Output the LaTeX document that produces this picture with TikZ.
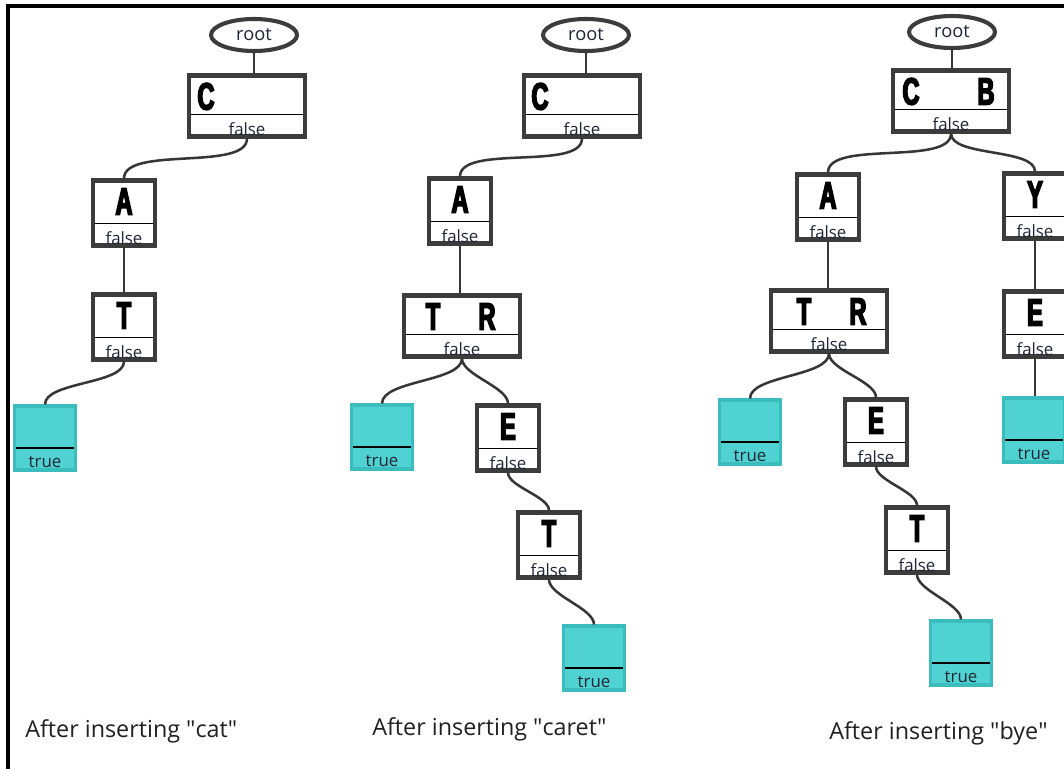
\documentclass[tikz,border=0pt]{standalone}
\usepackage{fontspec}
\setmainfont{Open Sans}
\newfontfamily\letterfont[FakeStretch=0.62,FakeBold=4]{Liberation Sans}
\usetikzlibrary{shapes.geometric}
\newlength\pxu
\setlength\pxu{0.025cm}
\definecolor{boxgray}{HTML}{3C3C3C}
\definecolor{linkgray}{HTML}{363636}
\definecolor{leafteal}{HTML}{50D2D2}
\definecolor{leafedge}{HTML}{3CBDBD}
\definecolor{flagink}{HTML}{1E2636}
\definecolor{capink}{HTML}{202020}
\tikzset{
  trie/.style={draw=boxgray, line width=2.9pt, fill=white, inner sep=0pt,
    minimum width=62\pxu, minimum height=65\pxu,
    path picture={\draw[black, line width=0.9pt]
      ([yshift=22\pxu]path picture bounding box.south west) --
      ([yshift=22\pxu]path picture bounding box.south east);}},
  wide/.style={minimum width=116\pxu, minimum height=61\pxu},
  leaf/.style={trie, draw=leafedge, fill=leafteal, line width=2.2pt,
    minimum width=61\pxu, minimum height=64\pxu},
  keys/.style 2 args={label={[anchor=center, inner sep=0pt,
    font=\letterfont\bfseries\fontsize{27}{27}\selectfont,
    xshift=#1\pxu, yshift=-23\pxu]north:#2}},
  wordend/.style={label={[anchor=center, inner sep=0pt, text=flagink,
    font=\fontsize{12}{12}\selectfont, yshift=9.5\pxu]south:#1}},
  link/.style={draw=linkgray, line width=1.8pt, looseness=0.65},
  rootnode/.style={ellipse, draw=boxgray, line width=2.9pt, fill=white,
    minimum width=86\pxu, minimum height=32\pxu, inner sep=0pt,
    text=flagink, font=\fontsize{13}{13}\selectfont},
  caption/.style={anchor=base west, inner sep=0pt, text=capink,
    font=\fontsize{16.6}{17}\selectfont},
}
\begin{document}
\begin{tikzpicture}[x=0.025cm, y=-0.025cm]
  \useasboundingbox (0,0) rectangle (1064,769);
  \draw[line width=2.2pt] (8,769) -- (8,6) -- (1064,6);

  % after "cat"
  \node[rootnode] (root1) at (254,35) {root};
  \node[trie, wide, keys={-41}{C}, wordend=false] (c1) at (247,106) {};
  \node[trie, keys={0}{A}, wordend=false] (a1) at (124,213) {};
  \node[trie, keys={0}{T}, wordend=false] (t1) at (124,327) {};
  \node[leaf, wordend=true] (end1) at (45,438) {};
  \draw[link] (root1.south) -- (root1.south |- c1.north);
  \draw[link] (c1.south) to[out=-90, in=90] (a1.north);
  \draw[link] (a1.south) -- (t1.north);
  \draw[link] (t1.south) to[out=-90, in=90] (end1.north);

  % after "caret"
  \node[rootnode] (root2) at (586,35) {root};
  \node[trie, wide, keys={-42}{C}, wordend=false] (c2) at (582,106) {};
  \node[trie, keys={0}{A}, wordend=false] (a2) at (460,211) {};
  \node[trie, wide, keys={-29}{T}, keys={25}{R}, wordend=false] (tr2) at (462,326) {};
  \node[leaf, wordend=true] (end2a) at (382,437) {};
  \node[trie, keys={0}{E}, wordend=false] (e2) at (508,438) {};
  \node[trie, keys={0}{T}, wordend=false] (t2) at (549,545) {};
  \node[leaf, wordend=true] (end2b) at (594,658) {};
  \draw[link] (root2.south) -- (root2.south |- c2.north);
  \draw[link] (c2.south) to[out=-90, in=90] (a2.north);
  \draw[link] (a2.south) -- (a2.south |- tr2.north);
  \draw[link] (tr2.south) to[out=-90, in=90] (end2a.north);
  \draw[link] (tr2.south) to[out=-90, in=90] (e2.north);
  \draw[link] (e2.south) to[out=-90, in=90] (t2.north);
  \draw[link] (t2.south) to[out=-90, in=90] (end2b.north);

  % after "bye"
  \node[rootnode] (root3) at (952,32) {root};
  \node[trie, wide, keys={-40}{C}, keys={35}{B}, wordend=false] (cb3) at (951,101) {};
  \node[trie, keys={0}{A}, wordend=false] (a3) at (828,207) {};
  \node[trie, wide, keys={-25}{T}, keys={29}{R}, wordend=false] (tr3) at (829,321) {};
  \node[leaf, wordend=true] (end3a) at (750,432) {};
  \node[trie, keys={0}{E}, wordend=false] (e3) at (876,432) {};
  \node[trie, keys={0}{T}, wordend=false] (t3) at (917,540) {};
  \node[leaf, wordend=true] (end3b) at (961,653) {};
  \node[trie, keys={0}{Y}, wordend=false] (y3) at (1035,206) {};
  \node[trie, keys={0}{E}, wordend=false] (e3y) at (1035,324) {};
  \node[leaf, wordend=true] (end3c) at (1034,430) {};
  \draw[link] (root3.south) -- (root3.south |- cb3.north);
  \draw[link] (cb3.south) to[out=-90, in=90] (a3.north);
  \draw[link] (cb3.south) to[out=-90, in=90] (y3.north);
  \draw[link] (a3.south) -- (a3.south |- tr3.north);
  \draw[link] (tr3.south) to[out=-90, in=90] (end3a.north);
  \draw[link] (tr3.south) to[out=-90, in=90] (e3.north);
  \draw[link] (e3.south) to[out=-90, in=90] (t3.north);
  \draw[link] (t3.south) to[out=-90, in=90] (end3b.north);
  \draw[link] (y3.south) -- (e3y.north);
  \draw[link] (e3y.south) -- (e3y.south |- end3c.north);

  \node[caption] (cap1) at (25,737) {After inserting \textquotedbl cat\textquotedbl};
  \node[caption] (cap2) at (372,735) {After inserting \textquotedbl caret\textquotedbl};
  \node[caption] (cap3) at (829,739) {After inserting \textquotedbl bye\textquotedbl};
\end{tikzpicture}
\end{document}
